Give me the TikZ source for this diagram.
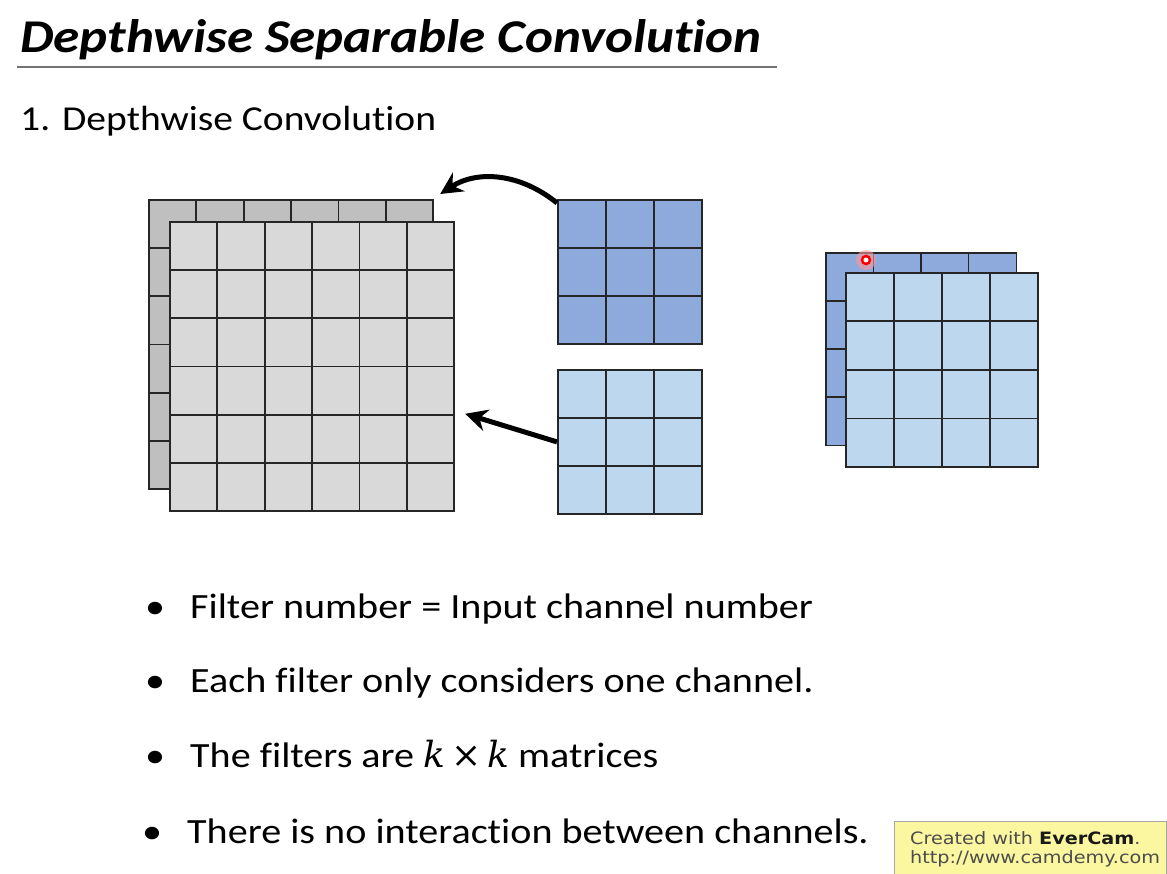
\documentclass[tikz,border=0pt]{standalone}
\usepackage{fontspec}
\setmainfont{Carlito}[FakeStretch=1.13,Ligatures=NoCommon]
\newfontfamily\wmfont{DejaVu Sans}[FakeStretch=1.13]
\newfontfamily\kfont{DejaVu Serif}
\usetikzlibrary{arrows.meta, positioning}
\definecolor{backgray}{HTML}{BFBFBF}
\definecolor{frontgray}{HTML}{D9D9D9}
\definecolor{darkblue}{HTML}{8EA9DB}
\definecolor{lightblue}{HTML}{BDD7EE}
\definecolor{wmyellow}{HTML}{FBF6A0}

\begin{document}
\begin{tikzpicture}[x=1pt,y=-1pt,>={Stealth[length=22pt,width=22pt]}]
\tikzstyle{cell}=[rectangle,draw=black!85,line width=1.8pt,inner sep=0pt,anchor=north west,minimum width=47.4pt,minimum height=48.2pt]
\tikzstyle{bluecell}=[cell,minimum width=48pt,minimum height=48pt]
\tikzstyle{txt}=[anchor=base west,inner sep=0pt]
\tikzstyle{item}=[txt,font=\fontsize{35.5}{42}\selectfont]

\useasboundingbox (0,0) rectangle (1167,874);

%--- title ---
\node[txt,font=\fontsize{47}{56}\selectfont\bfseries\itshape] (title) at (20,53) {Depthwise Separable Convolution};
\draw[black!55,line width=2pt] (17,67) -- (777,67);
\node[txt,font=\fontsize{35}{42}\selectfont] (sub) at (20,131) {1. Depthwise Convolution};

%--- input channels ---
\foreach \i in {0,...,5}
  \foreach \j in {0,...,5}
    \node[cell,fill=backgray] (inb-\i-\j) at ({148+47.4*\i},{199+48.2*\j}) {};
\foreach \i in {0,...,5}
  \foreach \j in {0,...,5}
    \node[cell,fill=frontgray] (inf-\i-\j) at ({169+47.4*\i},{221+48.2*\j}) {};

%--- filters ---
\foreach \i in {0,...,2}
  \foreach \j in {0,...,2} {
    \node[bluecell,fill=darkblue] (fa-\i-\j) at ({557+48*\i},{199+48*\j}) {};
    \node[bluecell,fill=lightblue] (fb-\i-\j) at ({557+48*\i},{369+48*\j}) {};
  }

%--- output channels ---
\foreach \i in {0,...,3}
  \foreach \j in {0,...,3}
    \node[bluecell,fill=darkblue] (outb-\i-\j) at ({825+47.5*\i},{252+48.2*\j}) {};
\foreach \i in {0,...,3}
  \foreach \j in {0,...,3}
    \node[bluecell,fill=lightblue,minimum height=48.5pt] (outf-\i-\j) at ({845+48*\i},{272+48.5*\j}) {};

% pointer
\fill[red!40,opacity=0.6] (866,260) circle (10pt);
\draw[red,line width=2.5pt,fill=white] (866,260) circle (4pt);

%--- arrows ---
\coordinate (tip1) at ([xshift=6pt,yshift=5pt]inb-5-0.north east);
\coordinate (tip2) at ([xshift=10pt]inf-5-4.north east);
\draw[->,line width=5pt] ([yshift=-4pt]fa-0-0.north west) .. controls +(-37,-30) and +(37,-24) .. (tip1);
\draw[->,line width=5pt] (fb-0-1.west) -- (tip2);

%--- bullets ---
\node[item] (d1) at (145,618) {\textbullet};
\node[item] (t1) at (190,618) {Filter number = Input channel number};
\node[item] (d2) at (145,692) {\textbullet};
\node[item] (t2) at (190,692) {Each filter only considers one channel.};
\node[item] (d3) at (145,767) {\textbullet};
\node[item] (t3) at (190,767) {The filters are {\kfont\fontsize{36}{42}\selectfont\itshape k\,\upshape×\,\itshape k} matrices};
\node[item] (d4) at (142,843) {\textbullet};
\node[item] (t4) at (187,843) {There is no interaction between channels.};

%--- watermark ---
\node[draw=black!35,fill=wmyellow,anchor=north west,minimum width=272pt,minimum height=56pt,inner sep=0pt] (wm) at (894,821) {};
\node[txt,font=\wmfont\fontsize{17}{19}\selectfont,text=black!70] (wm1) at (910,844) {Created with \textbf{\color{black!90}EverCam}.};
\node[txt,font=\wmfont\fontsize{17}{19}\selectfont,text=black!70] (wm2) at (910,863) {http://www.camdemy.com};

\end{tikzpicture}
\end{document}
